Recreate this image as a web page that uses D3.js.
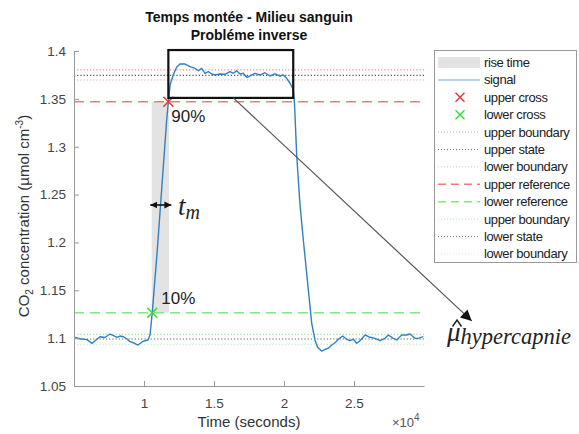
<!DOCTYPE html>
<html>
<head>
<meta charset="utf-8">
<script src="https://cdn.jsdelivr.net/npm/d3@7"></script>
<style>
  html, body { margin: 0; padding: 0; background: #fff; }
  svg { display: block; }
  text { font-family: "Liberation Sans", Arial, sans-serif; }
</style>
</head>
<body>
<svg id="chart" width="579" height="434"></svg>
<script>
// ---------------- DATA ----------------
const timeS = [5000,5430,5930,6290,6570,6860,7210,7570,7790,8070,8290,8500,8790,9000,9290,9570,9860,10070,10290,10430,
  10590,10950,11620,11740,11870,12090,12330,12570,12930,13290,13640,13880,14120,14360,14590,14840,15070,15430,15790,16140,
  16380,16620,16860,17090,17340,17570,17930,18290,18640,19000,19360,19710,19950,20190,20430,20660,20750,20910,21140,21380,
  21740,21980,22210,22400,22690,22930,23160,23410,23640,23880,24190,24480,24710,24950,25190,25430,25790,26140,26500,26860,
  27210,27450,27810,28050,28410,28760,29000,29360,29590,29950];
const signalV = [1.1009,1.0994,1.0984,1.0946,1.0980,1.1015,1.1007,1.1043,1.1028,1.1009,1.1022,1.1015,1.0991,1.0963,1.0949,1.0928,1.0960,1.0973,1.0980,1.1033,
  1.1266,1.1921,1.3279,1.3470,1.3650,1.3749,1.3830,1.3864,1.3864,1.3836,1.3819,1.3794,1.3819,1.3767,1.3784,1.3760,1.3749,1.3760,1.3757,1.3784,
  1.3767,1.3794,1.3760,1.3767,1.3725,1.3739,1.3767,1.3749,1.3773,1.3739,1.3760,1.3739,1.3749,1.3715,1.3663,1.3600,1.3450,1.2900,1.2400,1.2025,
  1.1503,1.1155,1.0981,1.0905,1.0865,1.0883,1.0894,1.0928,1.0952,1.0988,1.1022,1.0988,1.0973,1.0988,1.0946,1.0973,1.1033,1.1009,1.0998,1.0973,
  1.0998,1.1033,1.0998,1.0981,1.1033,1.1033,1.1043,1.0998,1.0998,1.1015];

// horizontal level lines: [name, value]
const levelNames  = ["upper boundary","upper state","lower boundary","upper reference","lower reference","upper boundary","lower state","lower boundary"];
const levelValues = [1.3802, 1.3746, 1.3697, 1.3470, 1.1266, 1.1040, 1.0991, 1.0936];

// crossings
const crossNames = ["upper cross","lower cross"];
const crossT = [11740, 10590];
const crossV = [1.3470, 1.1266];

// rise time span
const riseStartT = 10590, riseEndT = 11740;

// annotation box (zoom) and arrow
const boxT = [11740, 20660];
const boxV = [1.351, 1.401];
const arrowT = [16380, 33410];
const arrowV = [1.351, 1.118];

// ticks
const xTicks = [10000, 15000, 20000, 25000];
const xTickLabels = ["1", "1.5", "2", "2.5"];
const yTicks = [1.05, 1.1, 1.15, 1.2, 1.25, 1.3, 1.35, 1.4];
const yTickLabels = ["1.05", "1.1", "1.15", "1.2", "1.25", "1.3", "1.35", "1.4"];

const legendLabels = ["rise time","signal","upper cross","lower cross","upper boundary","upper state","lower boundary",
  "upper reference","lower reference","upper boundary","lower state","lower boundary"];

// ---------------- STYLES ----------------
const levelStyles = [
  {stroke:"#f08a8a", dash:"1.2,2", w:1.2},
  {stroke:"#555555", dash:"1.2,2", w:1.2},
  {stroke:"#f2a0a0", dash:"1.2,2", w:1.2},
  {stroke:"#f47a7a", dash:"10,6", w:1.5},
  {stroke:"#7fe87f", dash:"10,6", w:1.5},
  {stroke:"#90ec90", dash:"1.2,2", w:1.2},
  {stroke:"#666666", dash:"1.2,2", w:1.2},
  {stroke:"#a8f0a8", dash:"1.2,2", w:1.2}
];
const legendLevelStyles = [
  {stroke:"#f29a9a", dash:"1,2", w:1},
  {stroke:"#777777", dash:"1,2", w:1},
  {stroke:"#f6b8c0", dash:"1,2", w:1},
  {stroke:"#f47a7a", dash:"8,5", w:1.5},
  {stroke:"#7fe87f", dash:"8,5", w:1.5},
  {stroke:"#a8eea8", dash:"1,2", w:1},
  {stroke:"#777777", dash:"1,2", w:1},
  {stroke:"#c8f2c8", dash:"1,2", w:1}
];
const crossColors = ["#ee3333", "#33dd33"];

// ---------------- CHART ----------------
const svg = d3.select("#chart");
const x = d3.scaleLinear().domain([5000, 30000]).range([74, 424]);
const y = d3.scaleLinear().domain([1.05, 1.4]).range([386, 51]);

const defs = svg.append("defs");
defs.append("clipPath").attr("id","plotclip")
  .append("rect").attr("x", 74).attr("y", 40).attr("width", 350).attr("height", 346);

defs.append("marker")
  .attr("id","arrowhead").attr("viewBox","0 0 10 10").attr("refX",10).attr("refY",5)
  .attr("markerWidth",16).attr("markerHeight",11).attr("markerUnits","userSpaceOnUse")
  .attr("orient","auto")
  .append("path").attr("d","M0,0 L10,5 L0,10 Z").attr("fill","#111");
defs.append("marker")
  .attr("id","dblhead").attr("viewBox","0 0 10 10").attr("refX",10).attr("refY",5)
  .attr("markerWidth",7).attr("markerHeight",8).attr("markerUnits","userSpaceOnUse")
  .attr("orient","auto-start-reverse")
  .append("path").attr("d","M0,0 L10,5 L0,10 Z").attr("fill","#111");

// rise time rect
svg.append("rect")
  .attr("x", x(riseStartT) - 0.6).attr("width", x(riseEndT) - x(riseStartT) + 1.2)
  .attr("y", y(crossV[0])).attr("height", y(crossV[1]) - y(crossV[0]))
  .attr("fill", "#e3e3e3");

// level lines
const plot = svg.append("g").attr("clip-path","url(#plotclip)");
plot.selectAll("line.level").data(levelValues).join("line")
  .attr("class","level")
  .attr("x1", x(5000)).attr("x2", x(30000))
  .attr("y1", d => y(d)).attr("y2", d => y(d))
  .attr("stroke", (d,i) => levelStyles[i].stroke)
  .attr("stroke-width", (d,i) => levelStyles[i].w)
  .attr("stroke-dasharray", (d,i) => levelStyles[i].dash);

// signal
const line = d3.line().x((d,i) => x(timeS[i])).y(d => y(d));
plot.append("path").datum(signalV)
  .attr("d", line).attr("fill","none")
  .attr("stroke","#3080c4").attr("stroke-width",1.4).attr("stroke-linejoin","round");

// crosses
crossT.forEach((t,i) => {
  const cx = x(t), cy = y(crossV[i]), s = 5;
  svg.append("path")
    .attr("d", `M${cx-s},${cy-s}L${cx+s},${cy+s}M${cx-s},${cy+s}L${cx+s},${cy-s}`)
    .attr("stroke", crossColors[i]).attr("stroke-width", 1.5);
});

// axes
const yAxis = d3.axisLeft(y).tickValues(yTicks).tickFormat((d,i) => yTickLabels[i])
  .tickSizeInner(-5).tickSizeOuter(0).tickPadding(8);
const gy = svg.append("g").attr("transform","translate(74,0)").call(yAxis);
const xAxis = d3.axisBottom(x).tickValues(xTicks).tickFormat((d,i) => xTickLabels[i])
  .tickSizeInner(-5).tickSizeOuter(0).tickPadding(12);
const gx = svg.append("g").attr("transform","translate(0,386)").call(xAxis);
[gx, gy].forEach(g => {
  g.select(".domain").attr("stroke","#999").attr("stroke-width",1);
  g.selectAll(".tick line").attr("stroke","#999");
  g.selectAll(".tick text").attr("fill","#444").style("font-size","13.5px")
    .style("font-family","Liberation Sans, Arial, sans-serif");
});

// annotation box
svg.append("rect")
  .attr("x", x(boxT[0])).attr("y", y(boxV[1]))
  .attr("width", x(boxT[1]) - x(boxT[0])).attr("height", y(boxV[0]) - y(boxV[1]))
  .attr("fill","none").attr("stroke","#111").attr("stroke-width",2.2);

// arrow
svg.append("line")
  .attr("x1", x(arrowT[0])).attr("y1", y(arrowV[0]))
  .attr("x2", x(arrowT[1])).attr("y2", y(arrowV[1]))
  .attr("stroke","#555").attr("stroke-width",1.2)
  .attr("marker-end","url(#arrowhead)");

// percent labels
svg.append("text").attr("x", x(crossT[0]) + 3).attr("y", y(crossV[0]) + 20)
  .style("font-size","17px").attr("fill","#222").text("90%");
svg.append("text").attr("x", x(crossT[1]) + 9).attr("y", y(crossV[1]) - 8.5)
  .style("font-size","17px").attr("fill","#222").text("10%");

// t_m double arrow
const tmY = 205;
svg.append("line")
  .attr("x1", x(riseStartT) - 2).attr("x2", x(riseEndT) + 3)
  .attr("y1", tmY).attr("y2", tmY)
  .attr("stroke","#111").attr("stroke-width",1.6)
  .attr("marker-start","url(#dblhead)").attr("marker-end","url(#dblhead)");
const tm = svg.append("text").attr("x", 178).attr("y", 215)
  .style("font-family","Liberation Serif, 'DejaVu Serif', serif").style("font-style","italic")
  .style("font-size","27px").attr("fill","#222");
tm.append("tspan").text("t");
tm.append("tspan").attr("dy", 4).style("font-size","20px").text("m");

// mu hat hypercapnie
const mu = svg.append("text").attr("x", 447).attr("y", 341)
  .style("font-family","Liberation Serif, 'DejaVu Serif', serif").style("font-style","italic")
  .style("font-size","27px").attr("fill","#222");
mu.append("tspan").text("μ");
mu.append("tspan").attr("dy", 3).style("font-size","22.5px").text("hypercapnie");
svg.append("path").attr("d","M452.5,326.5 L457,320 L461.5,326.5")
  .attr("fill","none").attr("stroke","#222").attr("stroke-width",1.5);

// title
svg.append("text").attr("x", 249).attr("y", 22).attr("text-anchor","middle")
  .style("font-size","14px").style("font-weight","bold").attr("fill","#111").text("Temps montée - Milieu sanguin");
svg.append("text").attr("x", 249).attr("y", 40).attr("text-anchor","middle")
  .style("font-size","14px").style("font-weight","bold").attr("fill","#111").text("Probléme inverse");

// axis labels
svg.append("text").attr("x", 249).attr("y", 427).attr("text-anchor","middle")
  .style("font-size","15px").attr("fill","#333").text("Time (seconds)");
const xm = svg.append("text").attr("x", 392).attr("y", 427)
  .style("font-size","13px").attr("fill","#555");
xm.append("tspan").text("×10");
xm.append("tspan").attr("dy",-6).style("font-size","10px").text("4");

const yl = svg.append("text").attr("transform","translate(28.5,216) rotate(-90)").attr("text-anchor","middle")
  .style("font-size","15px").attr("fill","#333");
yl.append("tspan").text("CO");
yl.append("tspan").attr("dy",4).style("font-size","10px").text("2");
yl.append("tspan").attr("dy",-4).text(" concentration (µmol cm");
yl.append("tspan").attr("dy",-6).style("font-size","10px").text("-3");
yl.append("tspan").attr("dy",6).text(")");

// legend
const lg = svg.append("g");
lg.append("rect").attr("x",434.5).attr("y",50.5).attr("width",142).attr("height",212)
  .attr("fill","#fff").attr("stroke","#999").attr("stroke-width",1);
const rowY = i => 62.5 + i * 17.4;
legendLabels.forEach((lab,i) => {
  const yy = rowY(i);
  if (i === 0) {
    lg.append("rect").attr("x",438).attr("y",yy-5.5).attr("width",42).attr("height",11).attr("fill","#e3e3e3");
  } else if (i === 1) {
    lg.append("line").attr("x1",438).attr("x2",480).attr("y1",yy).attr("y2",yy)
      .attr("stroke","#9cc6e8").attr("stroke-width",1.5);
  } else if (i === 2 || i === 3) {
    const s = 4.5, cx = 460;
    lg.append("path").attr("d",`M${cx-s},${yy-s}L${cx+s},${yy+s}M${cx-s},${yy+s}L${cx+s},${yy-s}`)
      .attr("stroke", crossColors[i-2]).attr("stroke-width",1.4);
  } else {
    const st = legendLevelStyles[i-4];
    lg.append("line").attr("x1",438).attr("x2",480).attr("y1",yy).attr("y2",yy)
      .attr("stroke",st.stroke).attr("stroke-width",st.w).attr("stroke-dasharray",st.dash);
  }
  lg.append("text").attr("x",484).attr("y",yy).attr("dy","0.35em")
    .style("font-size","13px").style("letter-spacing","-0.4px").attr("fill","#222").text(lab);
});
</script>
</body>
</html>
